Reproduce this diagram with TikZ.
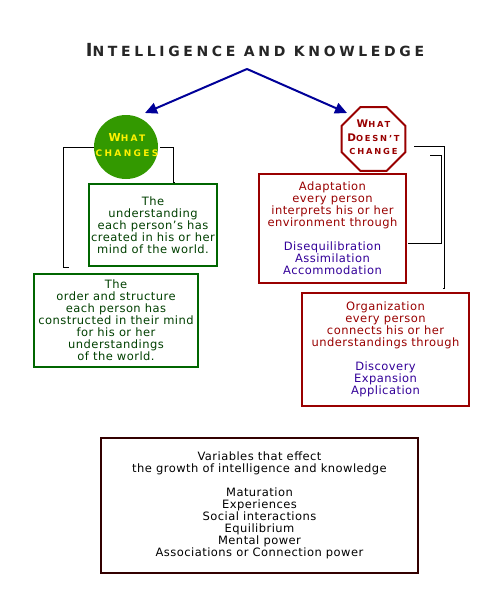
\documentclass[tikz,border=0pt]{standalone}
\usepackage{fontspec}
\setmainfont{DejaVu Sans}
\usepackage{xcolor}
\usetikzlibrary{positioning,shapes.geometric,arrows.meta}
\definecolor{leafgreen}{RGB}{51,153,0}
\definecolor{boxgreen}{RGB}{0,102,0}
\definecolor{textgreen}{RGB}{0,64,0}
\definecolor{rustred}{RGB}{153,0,0}
\definecolor{inkpurple}{RGB}{51,0,153}
\definecolor{arrowblue}{RGB}{0,0,153}
\definecolor{darkbrown}{RGB}{51,0,0}
\newcommand{\scfirst}[2]{{\fontsize{#1}{#1}\selectfont #2}}

\begin{document}
\begin{tikzpicture}[x=1pt,y=-1pt,
    bodytext/.style={align=center,font=\fontsize{11.5}{12}\selectfont\addfontfeature{LetterSpace=4}},
    greenbox/.style={bodytext,draw=boxgreen,line width=1.5pt,text=textgreen,inner sep=0pt},
    redbox/.style={bodytext,draw=rustred,line width=1.5pt,text=rustred,inner sep=0pt},
    brownbox/.style={bodytext,draw=darkbrown,line width=1.5pt,text=black,inner sep=0pt},
    bracket/.style={line width=1pt,black},
    flow/.style={line width=2pt,arrowblue,-{Triangle[length=12pt,width=11pt]}},
    capstext/.style={align=center,inner sep=0pt,font=\bfseries\fontsize{9}{15}\selectfont\addfontfeature{LetterSpace=26}}]
    \useasboundingbox[fill=white] (0,0) rectangle (500,600);

    \node[font=\bfseries\fontsize{14}{15}\selectfont\addfontfeature{LetterSpace=26},text=black!85] (title) at (255,50) {\scfirst{18}{I}NTELLIGENCE AND KNOWLEDGE};

    \coordinate (apex) at (247,69);
    \coordinate (ltip) at (145,113);
    \coordinate (rtip) at (347,113);
    \draw[flow] (apex) -- (ltip);
    \draw[flow] (apex) -- (rtip);

    \node[circle,fill=leafgreen,minimum size=64pt,inner sep=0pt] (chg) at (126,147) {};
    \node[capstext,text=yellow] (chglbl) at (127,145) {\scfirst{11}{W}HAT\\CHANGES};

    \node[regular polygon,regular polygon sides=8,minimum size=69pt,inner sep=0pt,draw=rustred,line width=2pt,fill=white] (oct) at (373.5,139) {};
    \node[capstext,text=rustred,font=\bfseries\fontsize{8.3}{13.5}\selectfont\addfontfeature{LetterSpace=22}] (octlbl) at (373.5,137.5) {\scfirst{10.5}{W}HAT\\\scfirst{10.5}{D}OESN'T\\CHANGE};

    \node[greenbox,minimum width=128pt,minimum height=82pt] (undr) at (153,225)
        {The\\understanding\\each person's has\\created in his or her\\mind of the world.};
    \node[greenbox,minimum width=164pt,minimum height=93pt] (ordr) at (116,320.5)
        {The\\order and structure\\each person has\\constructed in their mind\\for his or her\\understandings\\of the world.};

    \node[redbox,minimum width=147pt,minimum height=109pt] (adapt) at (332.5,228.5)
        {Adaptation\\every person\\interprets his or her\\environment through\\[12pt]
         \textcolor{inkpurple}{Disequilibration}\\\textcolor{inkpurple}{Assimilation}\\\textcolor{inkpurple}{Accommodation}};
    \node[redbox,minimum width=167pt,minimum height=113pt] (orgn) at (385.5,349.5)
        {Organization\\every person\\connects his or her\\understandings through\\[12pt]
         \textcolor{inkpurple}{Discovery}\\\textcolor{inkpurple}{Expansion}\\\textcolor{inkpurple}{Application}};

    \node[brownbox,minimum width=317pt,minimum height=135pt] (vars) at (259.5,505.5)
        {Variables that effect\\the growth of intelligence and knowledge\\[12pt]
         Maturation\\Experiences\\Social interactions\\Equilibrium\\Mental power\\Associations or Connection power};

    \coordinate (lend) at (69,267);
    \coordinate (rend) at (175,182);
    \draw[bracket] (chg.west) -- ++(-30,0) |- (lend);
    \draw[bracket] ([xshift=2pt]chg.east) -- ++(13,0) |- (rend);

    \coordinate (ostart) at (414,146);
    \coordinate (oend) at (443,288);
    \draw[bracket] (ostart) -| (444,288) -- (oend);
    \coordinate (istart) at (430,155);
    \coordinate (iend) at (408,243);
    \draw[bracket] (istart) -| (441,243) -- (iend);
\end{tikzpicture}
\end{document}
